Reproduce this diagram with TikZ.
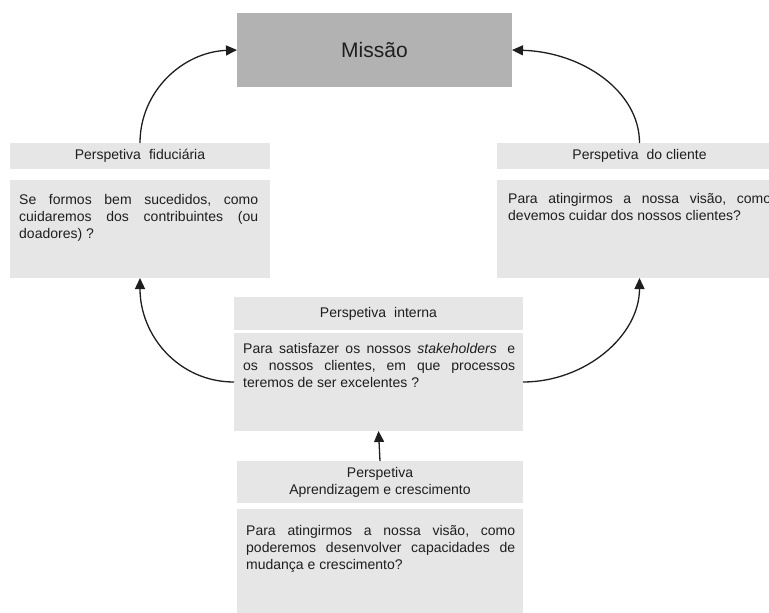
\documentclass[tikz,border=0pt]{standalone}
\usepackage{fontspec}
\setmainfont{Liberation Sans}
\usetikzlibrary{arrows.meta}
\definecolor{panel}{HTML}{E6E6E6}
\definecolor{mission}{HTML}{B2B2B2}
\definecolor{ink}{HTML}{1E1E1E}
\hyphenpenalty=10000
\tolerance=9999
\begin{document}
\begin{tikzpicture}[x=1pt,y=-1pt,
  panelbox/.style={draw=none,fill=panel,inner sep=0pt,outer sep=0pt,anchor=north west},
  headtext/.style={font=\fontsize{14}{17}\selectfont,text=ink,align=center},
  bodytext/.style={font=\fontsize{14}{17}\selectfont,text=ink,inner sep=0pt,anchor=north west,align=justify},
  flow/.style={line width=1.3pt,draw=ink,-{Triangle[length=11pt,width=10pt]}}]
\path[clip] (0,0) rectangle (769,613);

% mission box
\node[panelbox,fill=mission,minimum width=275pt,minimum height=74pt,
      font=\fontsize{21}{25}\selectfont,text=ink] (mission) at (237,13) {Missão};

% fiduciary perspective
\node[panelbox,headtext,minimum width=260pt,minimum height=26pt] (fidT) at (10,143)
  {Perspetiva\hspace{.3em} fiduciária};
\node[panelbox,minimum width=260pt,minimum height=98pt] (fidB) at (10,180) {};
\node[bodytext,text width=239pt] (fidQ) at (19,192.1)
  {\strut Se~formos~bem~sucedidos,~como\linebreak
   cuidaremos~dos~contribuintes~(ou\linebreak
   doadores)~?};

% customer perspective
\node[panelbox,headtext,minimum width=285pt,minimum height=26pt] (cliT) at (497,143)
  {Perspetiva\hspace{.3em} do cliente};
\node[panelbox,minimum width=285pt,minimum height=98pt] (cliB) at (497,180) {};
\node[bodytext,text width=263pt] (cliQ) at (508,191.1)
  {\strut Para~atingirmos~a~nossa~visão,~como\linebreak
   devemos~cuidar~dos~nossos~clientes?};

% internal perspective
\node[panelbox,headtext,minimum width=289pt,minimum height=33pt] (intT) at (234,297)
  {Perspetiva\hspace{.3em} interna};
\node[panelbox,minimum width=289pt,minimum height=98pt] (intB) at (234,333) {};
\node[bodytext,text width=272pt] (intQ) at (243,341.1)
  {\strut Para~satisfazer~os~nossos~\textit{stakeholders}\hspace{.3em}~e\linebreak
   os~nossos~clientes,~em~que~processos\linebreak
   teremos~de~ser~excelentes~?};

% learning and growth perspective
\node[panelbox,headtext,minimum width=286pt,minimum height=42pt] (aprT) at (237,461)
  {Perspetiva\\Aprendizagem e crescimento};
\node[panelbox,minimum width=286pt,minimum height=110pt] (aprB) at (237,509) {};
\node[bodytext,text width=269pt] (aprQ) at (246,523.1)
  {\strut Para~atingirmos~a~nossa~visão,~como\linebreak
   poderemos~desenvolver~capacidades~de\linebreak
   mudança~e~crescimento?};

% connectors
\draw[flow] (fidT.north) .. controls +(0,-52) and +(-54,2) .. (mission.west);
\draw[flow] (cliT.north) .. controls +(0,-52) and +(70,2) .. (mission.east);
\draw[flow] (intB.west) .. controls +(-55,0) and +(0,58) .. (fidB.south);
\draw[flow] (intB.east) .. controls +(62,0) and +(0,58) .. (cliB.south);
\draw[flow] (aprT.north) -- (intB.south);
\end{tikzpicture}
\end{document}
